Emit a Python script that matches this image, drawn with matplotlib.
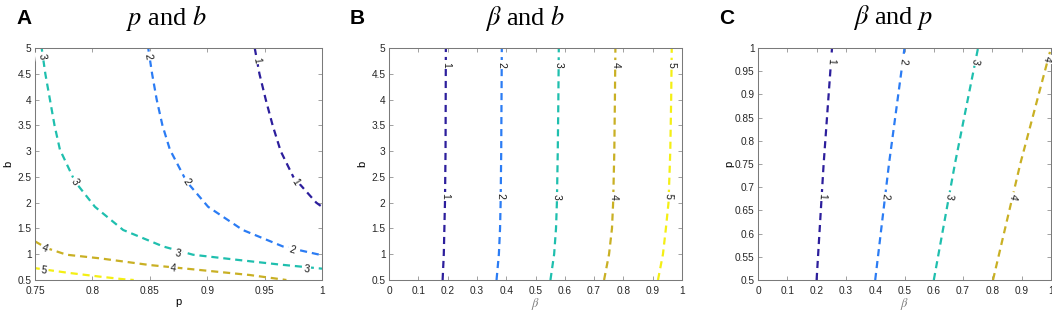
import numpy as np
import matplotlib
matplotlib.use("Agg")
import matplotlib.pyplot as plt

plt.rcParams["font.family"] = ["Liberation Sans", "DejaVu Sans"]
plt.rcParams["mathtext.fontset"] = "stix"

# contour levels and parula-like colours
levels = [1, 2, 3, 4, 5]
level_colors = {1: "#2c1e9c", 2: "#2b7cf4", 3: "#1fbfae", 4: "#c9b024", 5: "#f4ef14"}

# panel A : p (x) vs b (y)
a1_p = [0.9414, 0.9455, 0.951, 0.957, 0.964, 0.975, 0.987, 0.995, 1.0]
a1_b = [5.0, 4.5, 4.0, 3.5, 3.0, 2.5, 2.2, 2.0, 1.92]
a2_p = [0.8486, 0.852, 0.856, 0.861, 0.8675, 0.882, 0.9008, 0.931, 0.966, 1.0]
a2_b = [5.0, 4.5, 4.0, 3.5, 3.03, 2.41, 1.92, 1.47, 1.15, 0.98]
a3_p = [0.7558, 0.759, 0.763, 0.767, 0.7717, 0.7848, 0.8022, 0.8268, 0.8617, 0.8877, 0.9226, 0.963, 1.0]
a3_b = [5.0, 4.5, 4.0, 3.5, 3.03, 2.41, 1.92, 1.47, 1.15, 0.99, 0.90, 0.80, 0.72]
a4_p = [0.75, 0.76, 0.7776, 0.8066, 0.85, 0.8936, 0.937, 0.969]
a4_b = [1.25, 1.12, 0.99, 0.92, 0.79, 0.694, 0.597, 0.5]
a5_p = [0.75, 0.7776, 0.8066, 0.828, 0.836]
a5_b = [0.73, 0.643, 0.565, 0.513, 0.5]
a_labels = [(3, 0.7558, 4.84), (2, 0.8486, 4.84), (1, 0.943, 4.77),
            (3, 0.7848, 2.41), (2, 0.882, 2.41), (1, 0.977, 2.41),
            (4, 0.7587, 1.115), (3, 0.8747, 1.018), (2, 0.974, 1.083),
            (5, 0.7578, 0.68), (4, 0.8704, 0.727), (3, 0.9864, 0.707)]

# panel B : beta (x) vs b (y)
b_b = [0.5, 1.0, 1.5, 2.0, 3.0, 4.0, 5.0]
b1_beta = [0.183, 0.187, 0.189, 0.191, 0.193, 0.1935, 0.194]
b2_beta = [0.367, 0.375, 0.379, 0.381, 0.383, 0.384, 0.385]
b3_beta = [0.551, 0.5636, 0.570, 0.573, 0.576, 0.578, 0.5795]
b4_beta = [0.734, 0.751, 0.761, 0.765, 0.769, 0.771, 0.7727]
b5_beta = [0.918, 0.935, 0.945, 0.954, 0.960, 0.963, 0.965]
b_label_heights = [4.68, 2.12]

# panel C : beta (x) vs p (y)
c_p = [0.5, 0.75, 1.0]
c1_beta = [0.200, 0.224, 0.2526]
c2_beta = [0.400, 0.447, 0.500]
c3_beta = [0.600, 0.672, 0.751]
c4_beta = [0.802, 0.895, 1.0]
c_label_heights = [0.971, 0.68]

fig = plt.figure(figsize=(10.52, 3.10), dpi=100)


def make_axes(left_px, width_px):
    ax = fig.add_axes([left_px / 1052, 30 / 310, width_px / 1052, 232 / 310])
    ax.tick_params(direction="in", length=3, width=0.5, top=True, right=True,
                   labelsize=7.3, colors="#7a7a7a", labelcolor="#262626", pad=2.5)
    ax.tick_params(axis="x", pad=4)
    for s in ax.spines.values():
        s.set_color("#7a7a7a")
        s.set_linewidth(0.75)
    return ax


def draw_line(ax, xs, ys, level):
    ax.plot(xs, ys, color=level_colors[level], lw=1.6, dashes=(3.2, 2.2),
            solid_capstyle="butt", dash_capstyle="butt", zorder=2)


def put_label(ax, xs, ys, level, x, y, flip=False):
    # angle of the line near (x, y), measured on screen
    pts = ax.transData.transform(np.column_stack([xs, ys]))
    here = ax.transData.transform([x, y])
    i = int(np.argmin(np.hypot(pts[:, 0] - here[0], pts[:, 1] - here[1])))
    j0, j1 = max(i - 1, 0), min(i + 1, len(xs) - 1)
    dx, dy = pts[j1] - pts[j0]
    ang = np.degrees(np.arctan2(dy, dx))
    if ang > 90:
        ang -= 180
    if ang < -90:
        ang += 180
    if flip and ang > 45:
        ang -= 180
    ax.text(x, y, str(level), rotation=ang, rotation_mode="anchor",
            ha="center", va="center", fontsize=7.5, color="#1a1a1a", zorder=3,
            bbox=dict(boxstyle="square,pad=0.15", fc="white", ec="none"))


# ---- A ----
axA = make_axes(35, 287)
axA.set_xlim(0.75, 1)
axA.set_ylim(0.5, 5)
axA.set_xticks(np.arange(0.75, 1.001, 0.05))
axA.set_xticklabels(["0.75", "0.8", "0.85", "0.9", "0.95", "1"])
axA.set_yticks(np.arange(0.5, 5.01, 0.5))
axA.set_yticklabels(["0.5", "1", "1.5", "2", "2.5", "3", "3.5", "4", "4.5", "5"])
a_lines = {1: (a1_p, a1_b), 2: (a2_p, a2_b), 3: (a3_p, a3_b), 4: (a4_p, a4_b), 5: (a5_p, a5_b)}
for lv in levels:
    draw_line(axA, *a_lines[lv], lv)
for lv, x, y in a_labels:
    put_label(axA, *a_lines[lv], lv, x, y)
axA.set_xlabel("p", fontsize=8, labelpad=1)
axA.set_ylabel("b", fontsize=8, labelpad=3)

# ---- B ----
axB = make_axes(389, 293)
axB.set_xlim(0, 1)
axB.set_ylim(0.5, 5)
axB.set_xticks(np.arange(0, 1.001, 0.1))
axB.set_xticklabels(["0", "0.1", "0.2", "0.3", "0.4", "0.5", "0.6", "0.7", "0.8", "0.9", "1"])
axB.set_yticks(np.arange(0.5, 5.01, 0.5))
axB.set_yticklabels(["0.5", "1", "1.5", "2", "2.5", "3", "3.5", "4", "4.5", "5"])
b_lines = {1: b1_beta, 2: b2_beta, 3: b3_beta, 4: b4_beta, 5: b5_beta}
for lv in levels:
    draw_line(axB, b_lines[lv], b_b, lv)
    for h in b_label_heights:
        put_label(axB, b_lines[lv], b_b, lv, np.interp(h, b_b, b_lines[lv]), h, flip=True)
axB.set_xlabel(r"$\beta$", fontsize=9, color="#7a7a7a", labelpad=0)
axB.set_ylabel("b", fontsize=8, labelpad=3)

# ---- C ----
axC = make_axes(758, 293)
axC.set_xlim(0, 1)
axC.set_ylim(0.5, 1)
axC.set_xticks(np.arange(0, 1.001, 0.1))
axC.set_xticklabels(["0", "0.1", "0.2", "0.3", "0.4", "0.5", "0.6", "0.7", "0.8", "0.9", "1"])
axC.set_yticks(np.arange(0.5, 1.001, 0.05))
axC.set_yticklabels(["0.5", "0.55", "0.6", "0.65", "0.7", "0.75", "0.8", "0.85", "0.9", "0.95", "1"])
c_lines = {1: c1_beta, 2: c2_beta, 3: c3_beta, 4: c4_beta}
for lv in [1, 2, 3, 4]:
    draw_line(axC, c_lines[lv], c_p, lv)
    for h in c_label_heights:
        xb = np.interp(h, c_p, c_lines[lv])
        if lv == 4 and h > 0.9:
            xb, h = 0.986, 0.978
        put_label(axC, c_lines[lv], c_p, lv, xb, h, flip=True)
axC.set_xlabel(r"$\beta$", fontsize=9, color="#7a7a7a", labelpad=0)
axC.set_ylabel("p", fontsize=8, labelpad=0)

# titles and panel letters
title_kw = dict(fontsize=19, family=["Liberation Serif", "DejaVu Serif"], ha="center", va="center")
fig.text(167 / 1052, 1 - 18 / 310, r"$p$ and $b$", **title_kw)
fig.text(525 / 1052, 1 - 18 / 310, r"$\beta$ and $b$", **title_kw)
fig.text(893 / 1052, 1 - 18 / 310, r"$\beta$ and $p$", **title_kw)
for letter, xp in [("A", 16), ("B", 350), ("C", 719)]:
    fig.text(xp / 1052, 1 - 18 / 310, letter, fontsize=15, fontweight="bold",
             ha="left", va="center")

fig.savefig("out.png", dpi=100)
